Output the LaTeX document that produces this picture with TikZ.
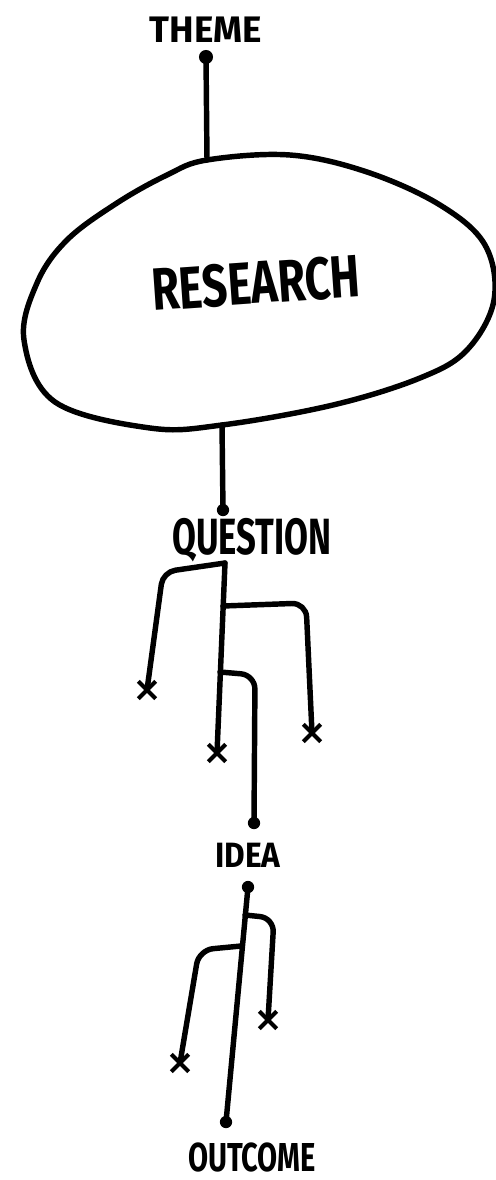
\documentclass[tikz,border=0pt]{standalone}
\usepackage{fontspec}
\usepackage{graphicx}
\setmainfont{Fira Sans}
\usetikzlibrary{shapes.misc, positioning}

\begin{document}
\begin{tikzpicture}[x=0.02cm, y=-0.02cm,
    pen/.style={line width=3.1pt, line cap=round, line join=round},
    word/.style={font=\bfseries\fontsize{#1}{#1}\selectfont, inner sep=0pt},
    dotend/.style={circle, fill, inner sep=0pt, minimum size=#1},
    dotend/.default=7pt,
    xend/.style={cross out, draw, line width=2.4pt, inner sep=0pt, minimum size=7.5pt},
]
    \useasboundingbox (0,0) rectangle (495,1180);

    % Theme on top
    \node[word=21pt] (theme) at (206,30) {THEME};
    \node[dotend=8pt] (themedot) at (206,57) {};

    % Research blob
    \coordinate (rtop) at (207,160);
    \coordinate (rbot) at (222,425);
    \draw[pen] plot[smooth cycle, tension=0.6] coordinates {
        (rtop) (290,155) (367,172) (440,205) (485,245) (494,300) (467,350)
        (420,378) (333,405) (rbot) (150,428) (55,402) (24,340) (37,283)
        (67,240) (117,203) (167,175)};
    \node[word=34pt, rotate=4] (research) at (256,283) {\scalebox{0.75}[1]{RESEARCH}};
    \draw[pen] (themedot.center) -- (rtop);

    % Question
    \node[dotend] (qdot) at (223,510) {};
    \draw[pen] (rbot) -- (qdot.center);
    \node[word=29pt] (question) at (252,540) {\scalebox{0.68}[1]{QUESTION}};

    % Question branches
    \coordinate (qroot) at (225,563);
    \coordinate (qb1) at (223,606);
    \coordinate (qb2) at (220,672);
    \node[xend] (qx1) at (147,690) {};
    \node[xend] (qx2) at (217,753) {};
    \node[xend] (qx3) at (312,733) {};
    \draw[pen] (qroot) -- (qx2.center);
    \draw[pen, rounded corners=7pt] (qroot) -- (163,572) -- (qx1.center);
    \draw[pen, rounded corners=8pt] (qb1) -- (306,603) -- (qx3.center);
    \draw[pen, rounded corners=8pt] (qb2) -- (255,675) -- (254,823);

    % Idea
    \node[dotend] (idot) at (254,823) {};
    \node[word=20pt] (idea) at (248,855) {\scalebox{0.9}[1]{IDEA}};

    % Idea branches
    \node[dotend] (iroot) at (248,887) {};
    \coordinate (ib1) at (245,915);
    \coordinate (ib2) at (241,946);
    \node[xend] (ix1) at (268,1020) {};
    \node[xend] (ix2) at (180,1063) {};
    \node[dotend] (odot) at (226,1122) {};
    \draw[pen] (iroot.center) -- (odot.center);
    \draw[pen, rounded corners=8pt] (ib1) -- (274,918) -- (ix1.center);
    \draw[pen, rounded corners=8pt] (ib2) -- (199,950) -- (ix2.center);

    % Outcome
    \node[word=23pt] (outcome) at (252,1157) {\scalebox{0.72}[1]{OUTCOME}};
\end{tikzpicture}
\end{document}
